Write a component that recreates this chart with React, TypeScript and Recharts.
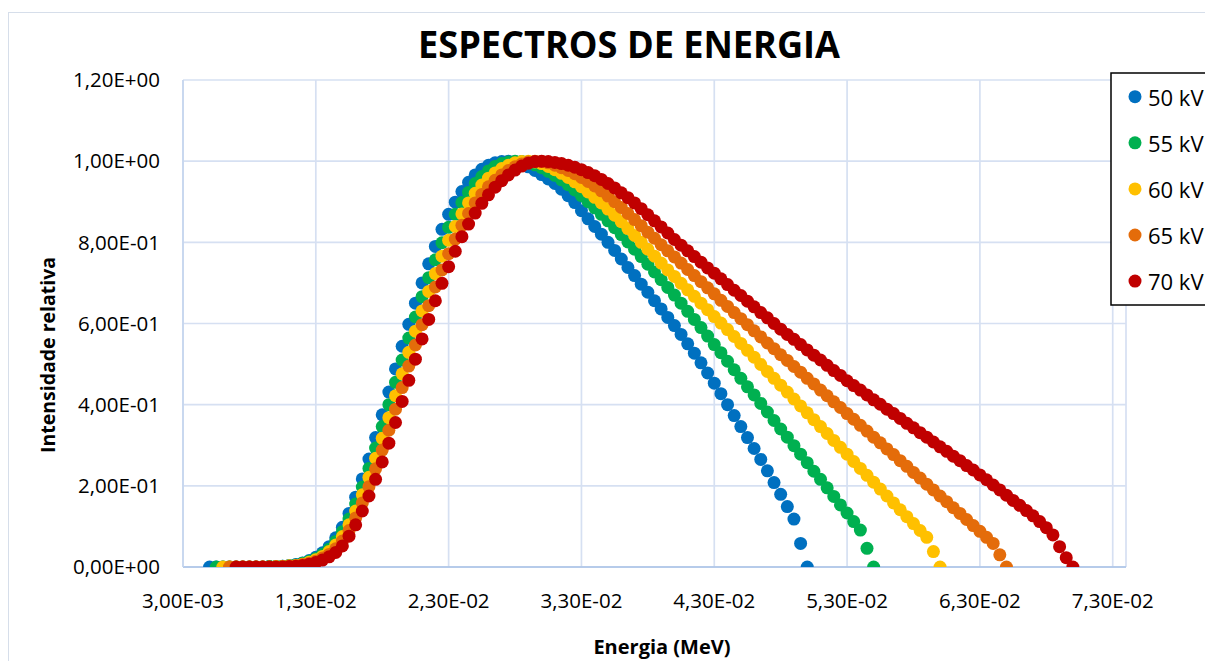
import React from 'react';
import { ScatterChart, Scatter, XAxis, YAxis, CartesianGrid } from 'recharts';

const seriesNames = ['50 kV', '55 kV', '60 kV', '65 kV', '70 kV'];
const seriesColors = ['#0070C0', '#00B050', '#FFC000', '#E46C0A', '#C00000'];
const startEnergyKeV = [5, 5.5, 6, 6.5, 7];
const energyStepKeV = 0.5;

const intensity50 = [
  0, 0, 0, 0, 0, 0, 0, 0, 0, 0.001,
  0.001, 0.002, 0.004, 0.006, 0.010, 0.016, 0.024, 0.035, 0.050, 0.072,
  0.098, 0.132, 0.172, 0.217, 0.266, 0.319, 0.375, 0.431, 0.488, 0.544,
  0.598, 0.650, 0.700, 0.747, 0.790, 0.832, 0.869, 0.899, 0.925, 0.948,
  0.966, 0.980, 0.990, 0.996, 0.999, 1.000, 0.998, 0.993, 0.986, 0.977,
  0.967, 0.956, 0.945, 0.931, 0.915, 0.898, 0.878, 0.858, 0.839, 0.820,
  0.800, 0.780, 0.759, 0.738, 0.718, 0.697, 0.677, 0.656, 0.636, 0.615,
  0.595, 0.573, 0.550, 0.527, 0.503, 0.478, 0.453, 0.427, 0.400, 0.373,
  0.346, 0.319, 0.292, 0.265, 0.237, 0.208, 0.179, 0.149, 0.118, 0.058,
  0,
];

const intensity55 = [
  0, 0, 0, 0, 0, 0, 0, 0, 0.001, 0.001,
  0.002, 0.003, 0.005, 0.009, 0.014, 0.021, 0.031, 0.044, 0.063, 0.087,
  0.118, 0.155, 0.197, 0.243, 0.293, 0.346, 0.400, 0.455, 0.510, 0.564,
  0.616, 0.666, 0.713, 0.757, 0.799, 0.837, 0.869, 0.898, 0.923, 0.945,
  0.962, 0.976, 0.987, 0.994, 0.998, 1.000, 0.999, 0.996, 0.991, 0.984,
  0.975, 0.965, 0.954, 0.942, 0.929, 0.915, 0.900, 0.885, 0.869, 0.853,
  0.836, 0.819, 0.801, 0.783, 0.765, 0.746, 0.727, 0.708, 0.689, 0.670,
  0.650, 0.630, 0.610, 0.590, 0.569, 0.548, 0.528, 0.507, 0.486, 0.465,
  0.444, 0.424, 0.403, 0.382, 0.361, 0.340, 0.320, 0.299, 0.278, 0.257,
  0.236, 0.216, 0.195, 0.174, 0.153, 0.133, 0.112, 0.091, 0.046, 0,
];

const intensity60 = [
  0, 0, 0, 0, 0, 0, 0, 0, 0.001, 0.001,
  0.003, 0.004, 0.007, 0.012, 0.018, 0.026, 0.038, 0.054, 0.075, 0.104,
  0.138, 0.178, 0.221, 0.268, 0.317, 0.368, 0.422, 0.476, 0.529, 0.581,
  0.631, 0.679, 0.723, 0.766, 0.805, 0.839, 0.870, 0.897, 0.921, 0.941,
  0.958, 0.971, 0.982, 0.990, 0.996, 0.999, 1.000, 0.998, 0.994, 0.987,
  0.979, 0.970, 0.960, 0.949, 0.937, 0.924, 0.911, 0.897, 0.882, 0.867,
  0.851, 0.834, 0.817, 0.800, 0.783, 0.766, 0.749, 0.732, 0.716, 0.699,
  0.683, 0.667, 0.650, 0.634, 0.617, 0.601, 0.585, 0.568, 0.551, 0.534,
  0.517, 0.499, 0.482, 0.465, 0.448, 0.431, 0.414, 0.397, 0.380, 0.363,
  0.346, 0.329, 0.312, 0.295, 0.278, 0.260, 0.243, 0.226, 0.209, 0.192,
  0.175, 0.158, 0.141, 0.124, 0.107, 0.090, 0.073, 0.038, 0,
];

const intensity65 = [
  0, 0, 0, 0, 0, 0, 0, 0, 0.001, 0.002,
  0.003, 0.006, 0.009, 0.014, 0.022, 0.031, 0.045, 0.064, 0.090, 0.121,
  0.158, 0.198, 0.242, 0.288, 0.337, 0.389, 0.442, 0.495, 0.547, 0.597,
  0.644, 0.690, 0.732, 0.772, 0.808, 0.842, 0.871, 0.897, 0.918, 0.937,
  0.953, 0.966, 0.977, 0.986, 0.993, 0.998, 1.000, 0.999, 0.996, 0.990,
  0.984, 0.977, 0.969, 0.960, 0.950, 0.939, 0.927, 0.914, 0.900, 0.886,
  0.871, 0.856, 0.841, 0.825, 0.810, 0.794, 0.779, 0.764, 0.749, 0.733,
  0.718, 0.703, 0.688, 0.673, 0.657, 0.642, 0.627, 0.612, 0.597, 0.582,
  0.567, 0.552, 0.538, 0.523, 0.509, 0.494, 0.480, 0.465, 0.451, 0.436,
  0.422, 0.407, 0.393, 0.378, 0.364, 0.349, 0.335, 0.320, 0.306, 0.291,
  0.277, 0.262, 0.248, 0.233, 0.219, 0.204, 0.190, 0.175, 0.161, 0.146,
  0.132, 0.117, 0.102, 0.088, 0.073, 0.058, 0.030, 0,
];

const intensity70 = [
  0, 0, 0, 0, 0, 0, 0, 0, 0.001, 0.002,
  0.004, 0.007, 0.011, 0.017, 0.025, 0.036, 0.052, 0.076, 0.104, 0.138,
  0.175, 0.216, 0.259, 0.305, 0.356, 0.408, 0.460, 0.512, 0.562, 0.610,
  0.656, 0.699, 0.740, 0.778, 0.814, 0.845, 0.872, 0.896, 0.917, 0.936,
  0.952, 0.966, 0.978, 0.988, 0.995, 0.999, 1.000, 0.999, 0.997, 0.994,
  0.990, 0.985, 0.979, 0.972, 0.964, 0.955, 0.945, 0.934, 0.922, 0.910,
  0.897, 0.883, 0.868, 0.853, 0.838, 0.823, 0.807, 0.793, 0.779, 0.765,
  0.751, 0.737, 0.724, 0.710, 0.696, 0.682, 0.669, 0.655, 0.641, 0.627,
  0.614, 0.600, 0.586, 0.573, 0.561, 0.548, 0.535, 0.522, 0.510, 0.497,
  0.484, 0.472, 0.459, 0.447, 0.436, 0.424, 0.412, 0.401, 0.389, 0.378,
  0.366, 0.354, 0.343, 0.331, 0.320, 0.308, 0.296, 0.285, 0.273, 0.262,
  0.250, 0.239, 0.227, 0.215, 0.202, 0.190, 0.177, 0.164, 0.152, 0.139,
  0.126, 0.112, 0.097, 0.079, 0.050, 0.023, 0,
];

const seriesValues = [intensity50, intensity55, intensity60, intensity65, intensity70];

const xTicks = [0.003, 0.013, 0.023, 0.033, 0.043, 0.053, 0.063, 0.073];
const xTickLabels = ['3,00E-03', '1,30E-02', '2,30E-02', '3,30E-02', '4,30E-02', '5,30E-02', '6,30E-02', '7,30E-02'];
const yTicks = [0, 0.2, 0.4, 0.6, 0.8, 1.0, 1.2];
const yTickLabels = ['0,00E+00', '2,00E-01', '4,00E-01', '6,00E-01', '8,00E-01', '1,00E+00', '1,20E+00'];

const titleText = 'ESPECTROS DE ENERGIA';
const xAxisTitle = 'Energia (MeV)';
const yAxisTitle = 'Intensidade relativa';

const FONT = '"Open Sans", "Noto Sans", sans-serif';

const buildSeries = (values: number[], startKeV: number) =>
  values.map((v, i) => ({ x: (startKeV + i * energyStepKeV) / 1000, y: v }));

const labelFor = (ticks: number[], labels: string[]) => (v: number) => {
  const i = ticks.findIndex((t) => Math.abs(t - v) < 1e-9);
  return i >= 0 ? labels[i] : '';
};

const dotShape = (color: string) => (p: any) => {
  if (p == null || p.cx == null || p.cy == null) return <g />;
  return <circle cx={p.cx} cy={p.cy} r={6.5} fill={color} />;
};

export default function App() {
  const W = 1205;
  const H = 661;
  return (
    <div style={{ position: 'absolute', left: 0, top: 0, width: W, height: H, overflow: 'hidden', background: '#fff', fontFamily: FONT }}>
      <div style={{ position: 'absolute', left: 8, top: 12, width: 1400, height: 800, border: '1.5px solid #D6DEEA', boxSizing: 'border-box' }} />
      <div style={{ position: 'absolute', left: 0, top: 0 }}>
        <ScatterChart width={W} height={H} margin={{ top: 80, right: 79, bottom: 54, left: 83 }}>
          <CartesianGrid stroke="#D6E0F2" strokeWidth={1.7} />
          <XAxis
            dataKey="x"
            type="number"
            domain={[0.003, 0.074]}
            ticks={xTicks}
            interval={0}
            allowDataOverflow
            height={40}
            tickLine={false}
            tickSize={0}
            tickMargin={26}
            axisLine={{ stroke: '#A9C2E6', strokeWidth: 1.5 }}
            tick={{ fontSize: 20.5, fill: '#000', fontFamily: FONT }}
            tickFormatter={labelFor(xTicks, xTickLabels)}
          />
          <YAxis
            dataKey="y"
            type="number"
            domain={[0, 1.2]}
            ticks={yTicks}
            interval={0}
            allowDataOverflow
            width={100}
            tickLine={false}
            tickSize={0}
            tickMargin={23}
            axisLine={{ stroke: '#C3D4EE', strokeWidth: 1.5 }}
            tick={{ fontSize: 20.5, fill: '#000', fontFamily: FONT }}
            tickFormatter={labelFor(yTicks, yTickLabels)}
          />
          {seriesValues.map((vals, k) => (
            <Scatter
              key={seriesNames[k]}
              name={seriesNames[k]}
              data={buildSeries(vals, startEnergyKeV[k])}
              fill={seriesColors[k]}
              isAnimationActive={false}
              shape={dotShape(seriesColors[k])}
            />
          ))}
        </ScatterChart>
      </div>
      <svg width={W} height={H} style={{ position: 'absolute', left: 0, top: 0, pointerEvents: 'none' }}>
        <text x={629} y={58} textAnchor="middle" fontFamily={FONT} fontWeight={700} fontSize={38} fill="#000" textLength={422} lengthAdjust="spacingAndGlyphs">
          {titleText}
        </text>
        <text x={662} y={654} textAnchor="middle" fontFamily={FONT} fontWeight={700} fontSize={20} fill="#000">
          {xAxisTitle}
        </text>
        <text x={0} y={0} transform="translate(55,355) rotate(-90)" textAnchor="middle" fontFamily={FONT} fontWeight={700} fontSize={19.5} fill="#000">
          {yAxisTitle}
        </text>
        <rect x={1111} y={73} width={150} height={232} fill="#fff" stroke="#000" strokeWidth={1.5} />
        {seriesNames.map((n, k) => (
          <g key={n}>
            <circle cx={1135} cy={96.7 + k * 46.1} r={6.5} fill={seriesColors[k]} />
            <text x={1148} y={96.7 + k * 46.1} dominantBaseline="central" fontFamily={FONT} fontSize={22} fill="#000">
              {n}
            </text>
          </g>
        ))}
      </svg>
    </div>
  );
}
